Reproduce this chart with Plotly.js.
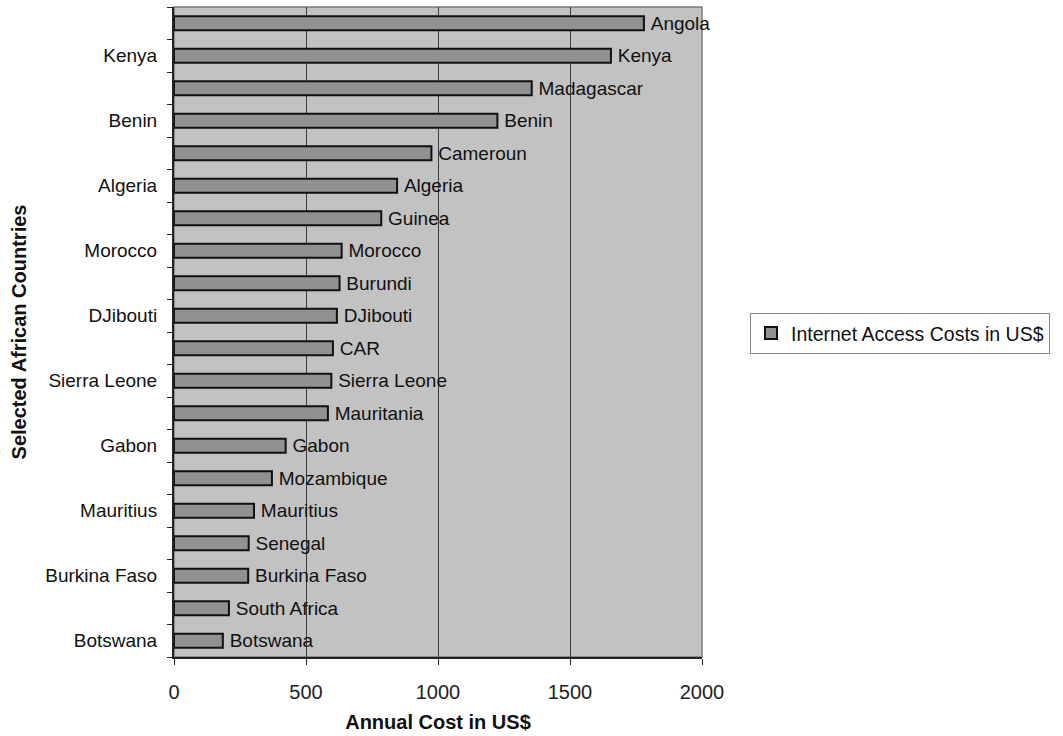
<!DOCTYPE html>
<html>
<head>
<meta charset="utf-8">
<script src="https://cdn.plot.ly/plotly-3.0.1.min.js"></script>
<style>
  html, body { margin: 0; padding: 0; background: #ffffff; }
  #chart { width: 1063px; height: 736px; }
</style>
</head>
<body>
<div id="chart"></div>
<script>
// Countries listed from the bottom bar to the top bar
const countries = [
  "Botswana", "South Africa", "Burkina Faso", "Senegal", "Mauritius",
  "Mozambique", "Gabon", "Mauritania", "Sierra Leone", "CAR",
  "DJibouti", "Burundi", "Morocco", "Guinea", "Algeria",
  "Cameroun", "Benin", "Madagascar", "Kenya", "Angola"
];
// Annual internet access cost per country, US$
const annualCost = [
  185, 208, 281, 283, 303,
  371, 423, 583, 596, 602,
  617, 627, 635, 785, 845,
  975, 1225, 1355, 1655, 1780
];
const seriesName = "Internet Access Costs in US$";
const xTickValues = [0, 500, 1000, 1500, 2000];

// Category positions along the vertical axis
const positions = countries.map((_, i) => i);
// Only every second country is labelled on the axis
const labelledPositions = positions.filter(i => i % 2 === 0);
const labelledNames = labelledPositions.map(i => countries[i]);
// Tick marks sit on the boundaries between bars
const boundaries = positions.map(i => i - 0.5).concat([countries.length - 0.5]);

const FONT = "Liberation Sans, Arial, sans-serif";

const trace = {
  type: "bar",
  orientation: "h",
  name: seriesName,
  x: annualCost,
  y: positions,
  text: countries,
  texttemplate: "\u2009%{text}",
  textposition: "outside",
  constraintext: "none",
  cliponaxis: false,
  textfont: { family: FONT, size: 19, color: "#111111" },
  marker: {
    color: "#919191",
    line: { color: "#111111", width: 2 }
  },
  hoverinfo: "x+text",
  showlegend: true
};

const layout = {
  width: 1063,
  height: 736,
  margin: { l: 174, r: 361, t: 7, b: 79, pad: 0 },
  paper_bgcolor: "#ffffff",
  plot_bgcolor: "#c2c2c2",
  font: { family: FONT, size: 19, color: "#111111" },
  bargap: 0.57,
  showlegend: true,
  legend: {
    x: 1.0909, xanchor: "left",
    y: 0.498, yanchor: "middle",
    bgcolor: "#ffffff",
    bordercolor: "#8a8a8a",
    borderwidth: 1,
    font: { family: FONT, size: 19.5, color: "#111111" },
    itemwidth: 30
  },
  xaxis: {
    range: [0, 2000],
    tickvals: xTickValues,
    ticktext: xTickValues.map(String),
    ticks: "outside",
    ticklen: 6,
    tickcolor: "#222222",
    ticklabelstandoff: 10,
    tickfont: { family: FONT, size: 20, color: "#222222" },
    showgrid: true,
    gridcolor: "#3c3c3c",
    gridwidth: 1,
    zeroline: false,
    showline: true,
    linecolor: "#222222",
    linewidth: 2,
    title: {
      text: "<b>Annual Cost in US$</b>",
      font: { family: FONT, size: 20, color: "#111111" },
      standoff: 13
    }
  },
  yaxis: {
    range: [-0.5, countries.length - 0.5],
    tickvals: labelledPositions,
    ticktext: labelledNames,
    ticks: "",
    ticklabelstandoff: 11,
    tickfont: { family: FONT, size: 19, color: "#111111" },
    minor: {
      tickvals: boundaries,
      ticks: "outside",
      ticklen: 5,
      tickcolor: "#222222",
      showgrid: false
    },
    showgrid: false,
    zeroline: false,
    showline: true,
    linecolor: "#222222",
    linewidth: 2,
    title: {
      text: "<b>Selected African Countries</b>",
      font: { family: FONT, size: 20, color: "#111111" },
      standoff: 13
    }
  },
  shapes: [
    {
      type: "rect",
      xref: "paper", yref: "paper",
      x0: 0, x1: 1, y0: 0, y1: 1,
      line: { color: "#7a7a7a", width: 1.5 },
      fillcolor: "rgba(0,0,0,0)",
      layer: "below"
    }
  ]
};

Plotly.newPlot("chart", [trace], layout, { displayModeBar: false, staticPlot: true });
</script>
</body>
</html>
